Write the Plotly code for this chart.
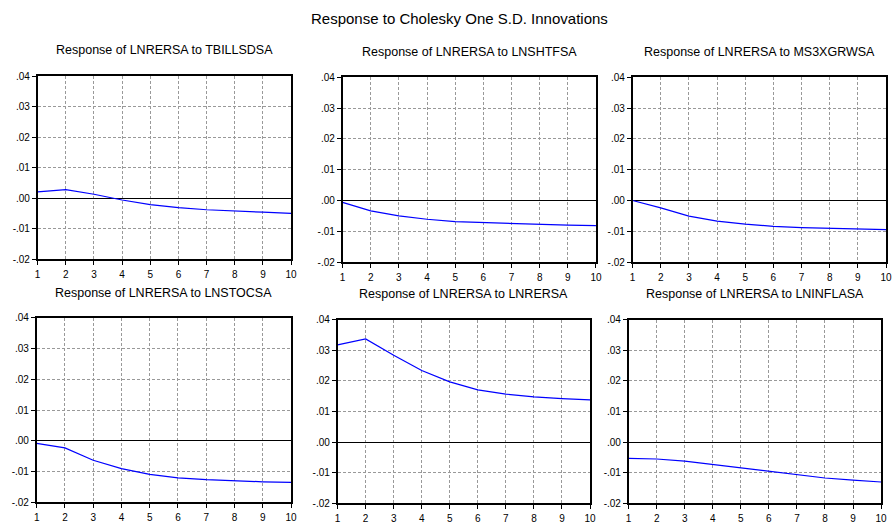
import plotly.graph_objects as go

W, H = 894, 527

periods = [1, 2, 3, 4, 5, 6, 7, 8, 9, 10]

titles = [
    "Response of LNRERSA to TBILLSDSA",
    "Response of LNRERSA to LNSHTFSA",
    "Response of LNRERSA to MS3XGRWSA",
    "Response of LNRERSA to LNSTOCSA",
    "Response of LNRERSA to LNRERSA",
    "Response of LNRERSA to LNINFLASA",
]

resp_tbillsdsa = [0.0021, 0.0028, 0.0013, -0.0006, -0.0021, -0.0031, -0.0038, -0.0043, -0.0046, -0.0050]
resp_lnshtfsa = [-0.0006, -0.0034, -0.0050, -0.0061, -0.0069, -0.0072, -0.0076, -0.0078, -0.0080, -0.0082]
resp_ms3xgrwsa = [0.0000, -0.0024, -0.0051, -0.0067, -0.0077, -0.0084, -0.0088, -0.0091, -0.0093, -0.0095]
resp_lnstocsa = [-0.0008, -0.0023, -0.0063, -0.0090, -0.0109, -0.0120, -0.0126, -0.0130, -0.0133, -0.0135]
resp_lnrersa = [0.0318, 0.0337, 0.0284, 0.0234, 0.0197, 0.0171, 0.0157, 0.0148, 0.0142, 0.0138]
resp_lninflasa = [-0.0053, -0.0055, -0.0062, -0.0073, -0.0085, -0.0097, -0.0108, -0.0117, -0.0124, -0.0130]

series = [resp_tbillsdsa, resp_lnshtfsa, resp_ms3xgrwsa, resp_lnstocsa, resp_lnrersa, resp_lninflasa]

y_tickvals = [-0.02, -0.01, 0.0, 0.01, 0.02, 0.03, 0.04]
y_ticktext = ["-.02", "-.01", ".00", ".01", ".02", ".03", ".04"]

# plot-area boxes in pixels: (left, right, top, bottom), title y
boxes = [
    (35, 291, 72, 259, 45),
    (343, 599, 73, 262, 47),
    (636, 892, 73, 262, 47),
    (34, 291, 319, 508, 294),
    (338, 593, 321, 509, 295),
    (632, 887, 321, 509, 295),
]

FONT = "Liberation Sans, Arial, sans-serif"

fig = go.Figure()
layout = {}
annotations = []
for i, (vals, (l, r, t, b, ty)) in enumerate(zip(series, boxes)):
    n = "" if i == 0 else str(i + 1)
    fig.add_trace(go.Scatter(
        x=periods, y=vals, mode="lines",
        line=dict(color="#0000ff", width=1.2),
        xaxis="x" + n, yaxis="y" + n, showlegend=False,
    ))
    common = dict(
        showline=True, linecolor="black", linewidth=1.5, mirror=True,
        ticks="outside", ticklen=4, tickcolor="black", tickwidth=1,
        showgrid=True, gridcolor="#999999", griddash="3px,2px", gridwidth=1,
        tickfont=dict(family=FONT, size=10, color="black"),
    )
    layout["xaxis" + n] = dict(
        domain=[l / W, r / W], anchor="y" + n,
        range=[1, 10], tickvals=periods, zeroline=False,
        ticklabelstandoff=1, **common,
    )
    layout["yaxis" + n] = dict(
        domain=[1 - b / H, 1 - t / H], anchor="x" + n,
        range=[-0.02, 0.04], tickvals=y_tickvals, ticktext=y_ticktext,
        zeroline=True, zerolinecolor="black", zerolinewidth=1, **common,
    )
    annotations.append(dict(
        text=titles[i], x=(l + r) / 2 / W, y=1 - ty / H,
        xref="paper", yref="paper", xanchor="center", yanchor="middle",
        showarrow=False, font=dict(family=FONT, size=12.5, color="black"),
    ))

annotations.append(dict(
    text="Response to Cholesky One S.D. Innovations", x=461 / W, y=1 - 13 / H,
    xref="paper", yref="paper", xanchor="center", yanchor="middle",
    showarrow=False, font=dict(family=FONT, size=15, color="black"),
))

fig.update_layout(
    width=W, height=H,
    margin=dict(l=0, r=0, t=0, b=0),
    paper_bgcolor="white", plot_bgcolor="white",
    annotations=annotations,
    **layout,
)

fig.write_html(
    "out.html",
    config={"displayModeBar": False},
    post_script="document.body.style.margin='0';document.body.style.overflow='hidden';",
)
